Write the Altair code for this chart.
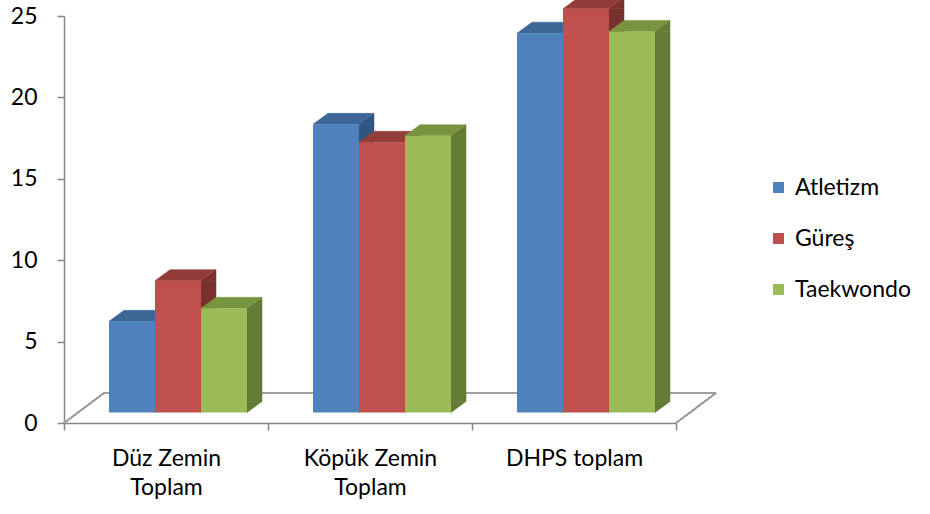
import altair as alt
import pandas as pd

# ---- data ----
categories = ["Düz Zemin Toplam", "Köpük Zemin Toplam", "DHPS toplam"]
label_lines = {
    "Düz Zemin Toplam": ["Düz Zemin", "Toplam"],
    "Köpük Zemin Toplam": ["Köpük Zemin", "Toplam"],
    "DHPS toplam": ["DHPS toplam"],
}
series = ["Atletizm", "Güreş", "Taekwondo"]
atletizm = [5.6, 17.7, 23.3]
gures = [8.1, 16.6, 24.8]
taekwondo = [6.4, 17.0, 23.4]
y_ticks = [0, 5, 10, 15, 20, 25]

# ---- styles ----
front_colors = ["#4F81BD", "#C0504D", "#9BBB59"]
top_colors = ["#3D6696", "#923D3A", "#78943F"]
side_colors = ["#315581", "#7A302D", "#637B34"]
FONT = "Lato"
FS = 23
AXIS_GRAY = "#868686"

rows = []
for s, vals in zip(series, [atletizm, gures, taekwondo]):
    for c, v in zip(categories, vals):
        rows.append({"category": c, "series": s, "value": v})
df = pd.DataFrame(rows)

W, H = 612, 407
BAR_W = 46            # front face width
DX, DY = 15, 11       # bar depth (oblique)
SX, SY = 12, -10.5    # bars set back into the floor
FLOOR_DX, FLOOR_DY = 40, -30
U = 50                # px per unit of custom shape path
SIZE = (2 * U) ** 2


def pt(x, y):
    return f"{x / U:.4f} {y / U:.4f}"


def poly(points):
    return "M" + " L".join(pt(x, y) for x, y in points) + " Z"


hw = BAR_W / 2
top_shape = poly([(-hw, 0), (hw, 0), (hw + DX, -DY), (-hw + DX, -DY)])
side_top_shape = poly([(hw, 0), (hw + DX, -DY), (hw + DX, 0)])
side_bot_shape = poly([(hw, -DY), (hw, 0), (hw + DX, -DY)])

label_expr = " : ".join(
    [f"datum.label == '{k}' ? {v!r}" for k, v in label_lines.items()] + ["datum.label"]
)

x_enc = alt.X(
    "category:N",
    sort=categories,
    scale=alt.Scale(domain=categories, paddingInner=0, paddingOuter=0),
    axis=alt.Axis(
        title=None,
        tickBand="extent",
        domainColor=AXIS_GRAY,
        tickColor=AXIS_GRAY,
        domainWidth=1.5,
        tickWidth=1.5,
        tickSize=7,
        labelAngle=0,
        labelFont=FONT,
        labelFontSize=FS,
        labelColor="#000000",
        labelPadding=17,
        labelLineHeight=29,
        labelLimit=300,
        labelExpr=label_expr,
    ),
)
y_scale = alt.Scale(domain=[0, 25], nice=False, zero=True)
y_axis = alt.Axis(
    title=None,
    values=y_ticks,
    grid=False,
    domainColor=AXIS_GRAY,
    tickColor=AXIS_GRAY,
    domainWidth=1.5,
    tickWidth=1.5,
    tickSize=7,
    labelFont=FONT,
    labelFontSize=FS,
    labelColor="#000000",
    labelPadding=20,
)

base = alt.Chart(df)

# floor (3D base plane)
floor_back = base.mark_rule(color="#A0A0A0", strokeWidth=1.5, xOffset=FLOOR_DX, x2Offset=FLOOR_DX,
                            yOffset=FLOOR_DY, y2Offset=FLOOR_DY).encode(
    x=alt.value(0), x2=alt.value("width"), y=alt.datum(0, scale=y_scale, axis=y_axis)
)
floor_left = base.mark_rule(color="#A0A0A0", strokeWidth=1.5, x2Offset=FLOOR_DX, y2Offset=FLOOR_DY).encode(
    x=alt.value(0), x2=alt.value(0), y=alt.datum(0), y2=alt.datum(0)
)
floor_right = base.mark_rule(color="#A0A0A0", strokeWidth=1.5, x2Offset=FLOOR_DX, y2Offset=FLOOR_DY).encode(
    x=alt.value("width"), x2=alt.value("width"), y=alt.datum(0), y2=alt.datum(0)
)

sides, tops, fronts = [], [], []
for i, s in enumerate(series):
    off = (i - 1) * BAR_W + SX
    sub = base.transform_filter(alt.datum.series == s)
    # side face: rectangle + two triangles
    sides.append(sub.mark_bar(width=DX, xOffset=off + hw + DX / 2, yOffset=SY, y2Offset=SY - DY,
                              color=side_colors[i], stroke=side_colors[i], strokeWidth=0.5).encode(
        x=x_enc, y=alt.Y("value:Q", scale=y_scale, stack=None), y2=alt.datum(0)))
    sides.append(sub.mark_point(shape=side_top_shape, size=SIZE, filled=True, opacity=1,
                                color=side_colors[i], stroke=side_colors[i], strokeWidth=0.5,
                                xOffset=off, yOffset=SY).encode(x=x_enc, y="value:Q"))
    sides.append(sub.mark_point(shape=side_bot_shape, size=SIZE, filled=True, opacity=1,
                                color=side_colors[i], stroke=side_colors[i], strokeWidth=0.5,
                                xOffset=off, yOffset=SY).encode(x=x_enc, y=alt.datum(0)))
    # top face
    tops.append(sub.mark_point(shape=top_shape, size=SIZE, filled=True, opacity=1,
                               color=top_colors[i], stroke=top_colors[i], strokeWidth=0.5,
                               xOffset=off, yOffset=SY).encode(x=x_enc, y="value:Q"))
    # front face
    fronts.append(sub.mark_bar(width=BAR_W, xOffset=off, yOffset=SY, y2Offset=SY).encode(
        x=x_enc,
        y=alt.Y("value:Q", scale=y_scale, stack=None),
        y2=alt.datum(0),
        color=alt.Color("series:N", scale=alt.Scale(domain=series, range=front_colors),
                        legend=alt.Legend(title=None)),
    ))

chart = alt.layer(floor_back, floor_left, floor_right, *sides, *tops, *fronts).properties(
    width=W,
    height=H,
    autosize=alt.AutoSizeParams(type="none"),
    padding={"left": 64, "top": 16, "right": 930 - 64 - W, "bottom": 514 - 16 - H},
).configure_view(stroke=None).configure_legend(
    orient="none",
    legendX=703,
    legendY=160,
    symbolType="square",
    symbolSize=121,
    symbolStrokeWidth=0,
    labelFont=FONT,
    labelFontSize=FS,
    labelColor="#000000",
    labelOffset=5,
    rowPadding=27,
    padding=0,
)

chart.save("out.html", embed_options={"renderer": "svg", "actions": False})
